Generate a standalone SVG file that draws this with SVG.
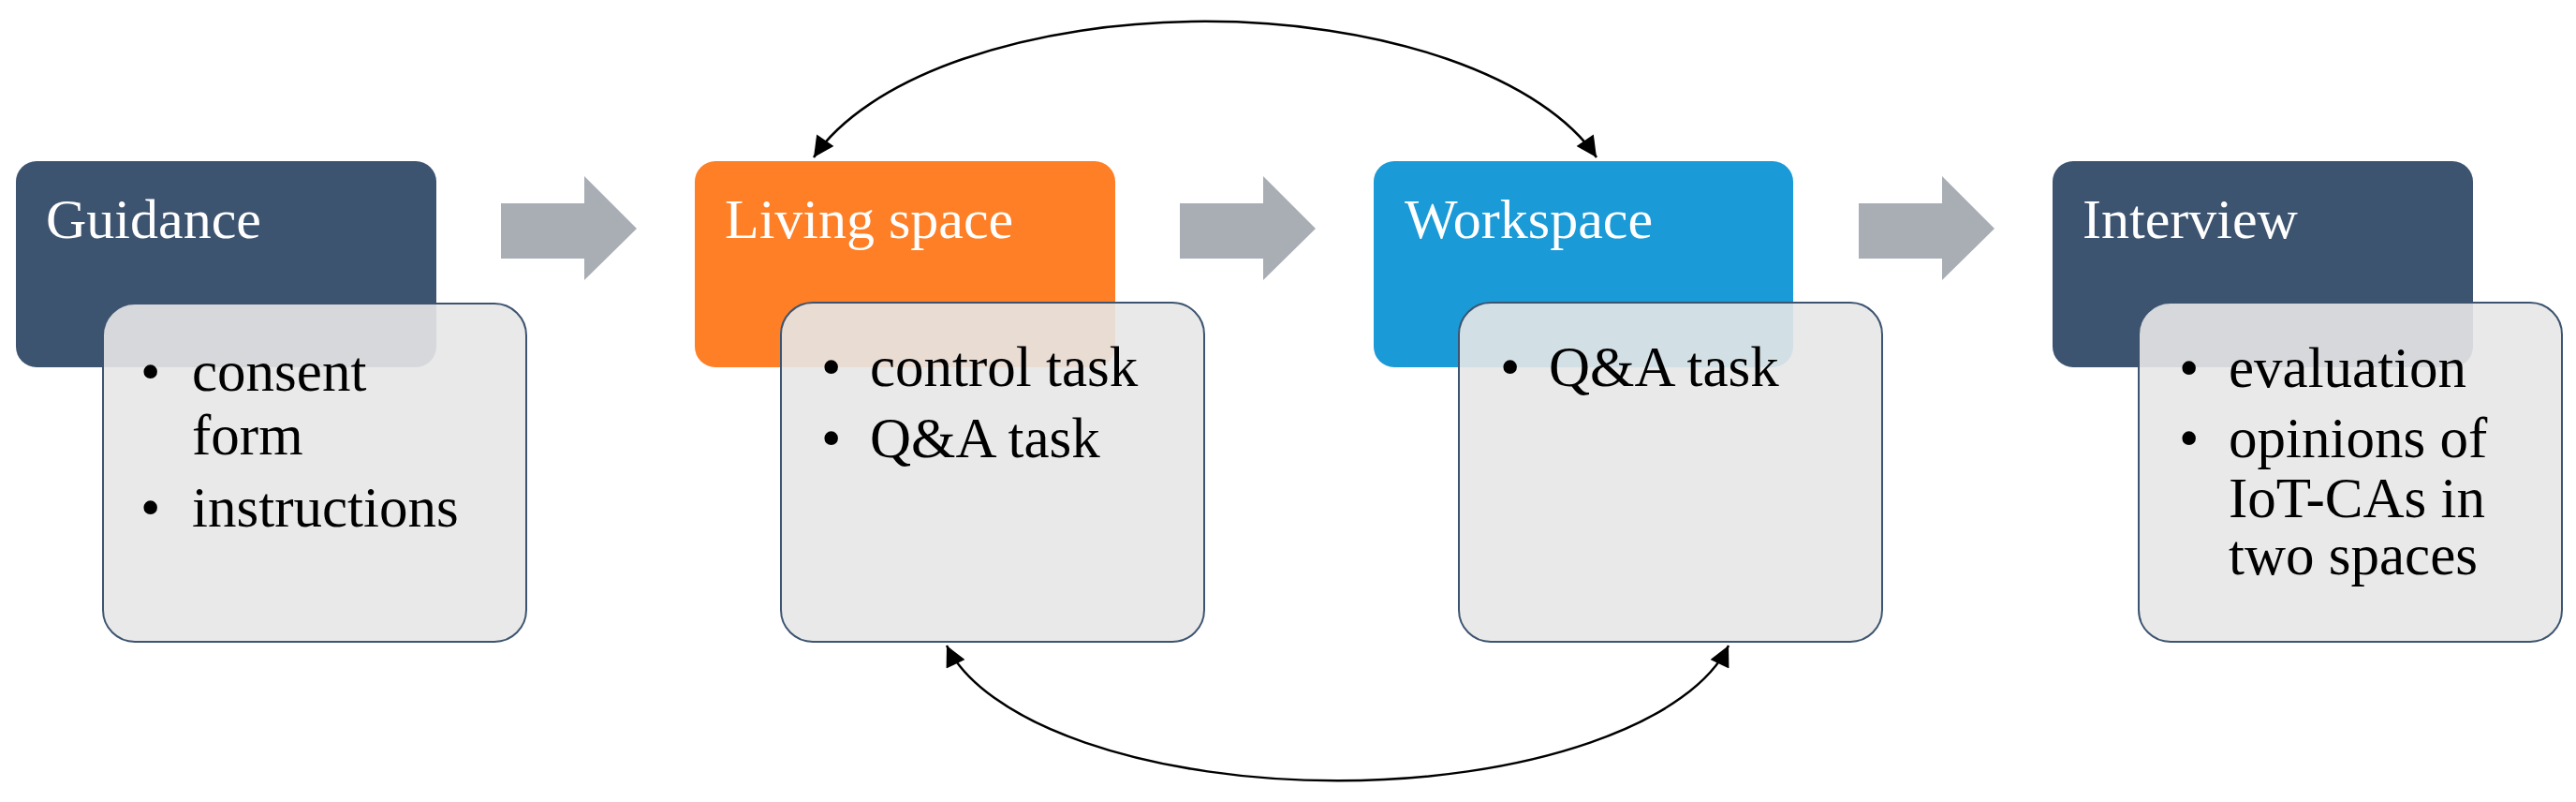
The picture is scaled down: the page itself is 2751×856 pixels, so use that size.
<svg xmlns="http://www.w3.org/2000/svg" width="2751" height="856" viewBox="0 0 2751 856">
  <style>
    .hdr { font-family: "Liberation Serif", "Times New Roman", serif; font-size: 60px; fill: #ffffff; }
    .item { font-family: "Liberation Serif", "Times New Roman", serif; font-size: 61px; fill: #000000; }
    .dark { fill: #3D5470; }
    .orange { fill: #FE7F26; }
    .blue { fill: #1A9AD7; }
    .card { fill: #E7E7E7; fill-opacity: 0.9; stroke: #3D5470; stroke-width: 2; }
    .block { fill: #A9AEB5; }
    .curve { fill: none; stroke: #000000; stroke-width: 2.5; marker-start: url(#ah); marker-end: url(#ah); }
  </style>
  <defs>
    <marker id="ah" viewBox="0 0 10 10" refX="10" refY="5" markerUnits="userSpaceOnUse" markerWidth="25" markerHeight="22" orient="auto-start-reverse">
      <path d="M0,0 L10,5 L0,10 z" fill="#000000"/>
    </marker>
  </defs>
  <rect width="2751" height="856" fill="#ffffff"/>

  <g id="guidance">
    <rect class="dark" x="17" y="172" width="449" height="220" rx="22"/>
    <text class="hdr" x="49" y="254">Guidance</text>
    <rect class="card" x="110" y="324" width="452" height="361" rx="34"/>
    <text class="item" x="150" y="417">•</text>
    <text class="item" x="205" y="417">consent</text>
    <text class="item" x="205" y="485">form</text>
    <text class="item" x="150" y="562">•</text>
    <text class="item" x="205" y="562">instructions</text>
  </g>

  <g id="living-space">
    <rect class="orange" x="742" y="172" width="449" height="220" rx="22"/>
    <text class="hdr" x="774" y="254">Living space</text>
    <rect class="card" x="834" y="323" width="452" height="362" rx="34"/>
    <text class="item" x="877" y="412">•</text>
    <text class="item" x="929" y="412">control task</text>
    <text class="item" x="877" y="488">•</text>
    <text class="item" x="929" y="488">Q&amp;A task</text>
  </g>

  <g id="workspace">
    <rect class="blue" x="1467" y="172" width="448" height="220" rx="22"/>
    <text class="hdr" x="1500" y="254">Workspace</text>
    <rect class="card" x="1558" y="323" width="452" height="362" rx="34"/>
    <text class="item" x="1602" y="412">•</text>
    <text class="item" x="1654" y="412">Q&amp;A task</text>
  </g>

  <g id="interview">
    <rect class="dark" x="2192" y="172" width="449" height="220" rx="22"/>
    <text class="hdr" x="2224" y="254">Interview</text>
    <rect class="card" x="2284" y="323" width="452" height="362" rx="34"/>
    <text class="item" x="2327" y="413">•</text>
    <text class="item" x="2380" y="413">evaluation</text>
    <text class="item" x="2327" y="488">•</text>
    <text class="item" x="2380" y="488">opinions of</text>
    <text class="item" x="2380" y="552">IoT-CAs in</text>
    <text class="item" x="2380" y="613">two spaces</text>
  </g>

  <g id="connectors">
    <path class="block" d="M535,217 L624,217 L624,188 L680,244 L624,299 L624,276 L535,276 z"/>
    <path class="block" d="M1260,217 L1349,217 L1349,188 L1405,244 L1349,299 L1349,276 L1260,276 z"/>
    <path class="block" d="M1985,217 L2074,217 L2074,188 L2130,244 L2074,299 L2074,276 L1985,276 z"/>
    <path class="curve" d="M869,168 A439,209 0 0 1 1705,168"/>
    <path class="curve" d="M1011,689 A426,180 0 0 0 1846,689"/>
  </g>
</svg>
